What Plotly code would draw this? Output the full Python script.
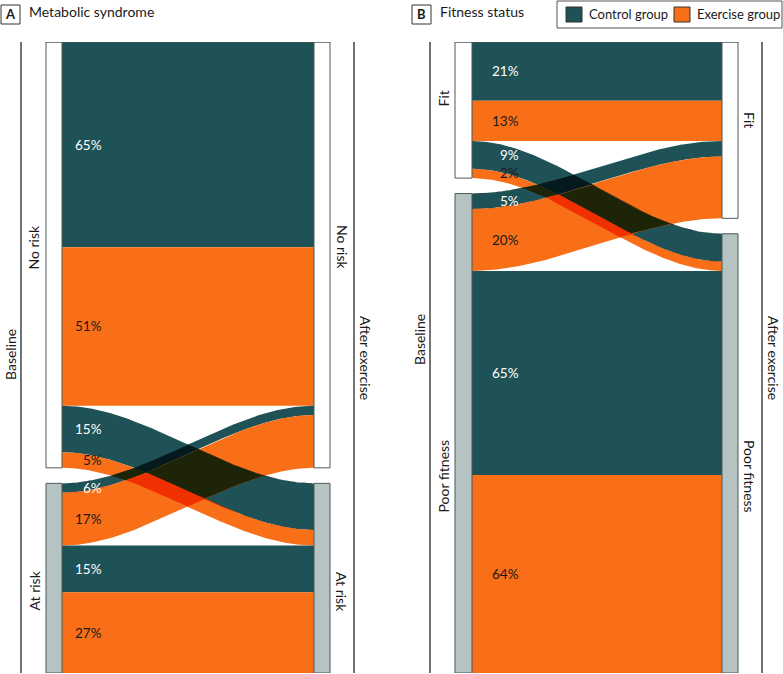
import numpy as np
import plotly.graph_objects as go

# ---------------- data ----------------
groups = ["Control group", "Exercise group"]
# flow order: [stay in first state, first->second, second->first, stay in second]
a_title = "Metabolic syndrome"
a_nodes = ["No risk", "At risk"]
a_pct_control = [65, 15, 6, 15]
a_pct_exercise = [51, 5, 17, 27]
# relative band thickness
a_size_control = [66, 15, 3, 15]
a_size_exercise = [51, 5, 17, 26]

b_title = "Fitness status"
b_nodes = ["Fit", "Poor fitness"]
b_pct_control = [21, 9, 5, 65]
b_pct_exercise = [13, 2, 20, 64]
b_size_control = [19, 9, 5, 66]
b_size_exercise = [13, 3, 20, 64]

side_labels = ["Baseline", "After exercise"]

# ---------------- style / layout ----------------
W, H = 783, 674
TEAL = "#1f5257"
ORANGE = "#f86f17"
NODE_GRAY = "#b5c4c3"
EDGE = "#4d5959"
FONT = "Lato, sans-serif"
group_colors = [TEAL, ORANGE]
label_colors = ["white", "#1a1a1a"]
GAP = 5
TOP_PX, BOT_PX = 42, 673


def py(px):
    return 1 - px / H


def hex2rgb(h):
    h = h.lstrip("#")
    return np.array([int(h[i:i + 2], 16) for i in (0, 2, 4)], dtype=float)


def multiply(c1, c2):
    c = hex2rgb(c1) * hex2rgb(c2) / 255.0
    return "rgb(%d,%d,%d)" % tuple(np.round(c).astype(int))


pairs = [(0, 0), (0, 1), (1, 0), (1, 1)]


def build_flows(size_c, size_e, pct_c, pct_e):
    flows = []
    for k, (s, t) in enumerate(pairs):
        for g, (sz, pc) in enumerate([(size_c, pct_c), (size_e, pct_e)]):
            flows.append(dict(src=s, tgt=t, g=g, size=sz[k], pct=pc[k]))
    nodes_l, nodes_r = {}, {}
    y = 0.0
    for s in (0, 1):
        start = y
        for f in sorted([f for f in flows if f["src"] == s], key=lambda f: (f["tgt"], f["g"])):
            f["l0"] = y
            y += f["size"]
            f["l1"] = y
        nodes_l[s] = (start, y)
        y += GAP
    total = y - GAP
    y = 0.0
    for t in (0, 1):
        start = y
        for f in sorted([f for f in flows if f["tgt"] == t], key=lambda f: (f["src"], f["g"])):
            f["r0"] = y
            y += f["size"]
            f["r1"] = y
        nodes_r[t] = (start, y)
        y += GAP
    return flows, nodes_l, nodes_r, total


fig = go.Figure()
shapes = []
annotations = []


def panel(flows, nodes_l, nodes_r, total, yname, xs_cfg, node_names, label_x, text_pos):
    bl, xl, xr, br, bracket_l, bracket_r = xs_cfg
    yref = "y" if yname == "y" else "y2"
    xs = np.linspace(xl, xr, 300)
    u = (xs - xl) / (xr - xl)
    s = 3 * u ** 2 - 2 * u ** 3
    edges = []
    for f in flows:
        top = f["l0"] + (f["r0"] - f["l0"]) * s
        bot = f["l1"] + (f["r1"] - f["l1"]) * s
        edges.append((top, bot))
        fig.add_trace(go.Scatter(
            x=np.concatenate([xs, xs[::-1]]), y=np.concatenate([top, bot[::-1]]),
            fill="toself", fillcolor=group_colors[f["g"]], mode="lines",
            line=dict(width=0), hoverinfo="skip", showlegend=False, yaxis=yname))
    # overlaps drawn as multiplied colour
    for i in range(len(flows)):
        for j in range(i + 1, len(flows)):
            lo = np.maximum(edges[i][0], edges[j][0])
            hi = np.minimum(edges[i][1], edges[j][1])
            if np.any(hi - lo > 1e-9):
                hi2 = np.maximum(hi, lo)
                fig.add_trace(go.Scatter(
                    x=np.concatenate([xs, xs[::-1]]), y=np.concatenate([lo, hi2[::-1]]),
                    fill="toself",
                    fillcolor=multiply(group_colors[flows[i]["g"]], group_colors[flows[j]["g"]]),
                    mode="lines", line=dict(width=0), hoverinfo="skip",
                    showlegend=False, yaxis=yname))
    # node bars
    for n, (a, b) in nodes_l.items():
        shapes.append(dict(type="rect", xref="x", yref=yref, x0=bl, x1=xl, y0=a, y1=b,
                           fillcolor="white" if n == 0 else NODE_GRAY,
                           line=dict(color=EDGE, width=1), layer="above"))
    for n, (a, b) in nodes_r.items():
        shapes.append(dict(type="rect", xref="x", yref=yref, x0=xr, x1=br, y0=a, y1=b,
                           fillcolor="white" if n == 0 else NODE_GRAY,
                           line=dict(color=EDGE, width=1), layer="above"))
    shapes.append(dict(type="line", xref="x", yref=yref, x0=bl, x1=br, y0=0, y1=0,
                       line=dict(color=EDGE, width=1), layer="above"))
    # brackets
    for bx in (bracket_l, bracket_r):
        shapes.append(dict(type="line", xref="x", yref=yref, x0=bx, x1=bx, y0=0, y1=total,
                           line=dict(color="#444", width=1.5)))
    # percentage labels
    for f in flows:
        annotations.append(dict(x=label_x, y=(f["l0"] + f["l1"]) / 2, xref="x", yref=yref,
                                text="%d%%" % f["pct"], showarrow=False, xanchor="right",
                                yanchor="middle",
                                font=dict(family=FONT, size=13.5, color=label_colors[f["g"]])))
    # node / side labels
    (nl0, nl1, nr0, nr1, base_y, after_y) = text_pos
    lx = (bracket_l + bl) / 2
    rx = (br + bracket_r) / 2
    for txt, x, ypx, ang in [(node_names[0], lx, nl0, -90), (node_names[1], lx, nl1, -90),
                             (node_names[0], rx, nr0, 90), (node_names[1], rx, nr1, 90),
                             (side_labels[0], bracket_l - 11, base_y, -90),
                             (side_labels[1], bracket_r + 12, after_y, 90)]:
        annotations.append(dict(x=x, y=py(ypx), xref="x", yref="paper", text=txt,
                                showarrow=False, textangle=ang, xanchor="center",
                                yanchor="middle",
                                font=dict(family=FONT, size=14, color="#1a1a1a")))


fa = build_flows(a_size_control, a_size_exercise, a_pct_control, a_pct_exercise)
fb = build_flows(b_size_control, b_size_exercise, b_pct_control, b_pct_exercise)

panel(*fa, "y", (46, 62, 314, 330, 21, 354), a_nodes, 104,
      (247, 591, 247, 592, 355, 358))
panel(*fb, "y2", (455, 472, 722, 738, 430, 762), b_nodes, 521,
      (99, 476, 120, 476, 340, 358))

# panel headers
for letter, x0, title in [("A", 1, a_title), ("B", 412, b_title)]:
    shapes.append(dict(type="rect", xref="x", yref="paper", x0=x0, x1=x0 + 19,
                       y0=py(24), y1=py(5), line=dict(color="#333", width=1), fillcolor="white"))
    annotations.append(dict(x=x0 + 9.5, y=py(14.5), xref="x", yref="paper", text="<b>%s</b>" % letter,
                            showarrow=False, xanchor="center", yanchor="middle",
                            font=dict(family=FONT, size=13, color="#1a1a1a")))
    annotations.append(dict(x=x0 + 26, y=py(12), xref="x", yref="paper", text=title,
                            showarrow=False, xanchor="left", yanchor="middle",
                            font=dict(family=FONT, size=14, color="#1a1a1a")))

# legend
shapes.append(dict(type="rect", xref="x", yref="paper", x0=557, x1=782, y0=py(28), y1=py(1),
                   line=dict(color="#555", width=1), fillcolor="white"))
for g, (sx, tx) in enumerate([(566, 587), (674, 695)]):
    shapes.append(dict(type="rect", xref="x", yref="paper", x0=sx, x1=sx + 16, y0=py(22), y1=py(7),
                       line=dict(color="#333", width=1), fillcolor=group_colors[g]))
    annotations.append(dict(x=tx, y=py(14.5), xref="x", yref="paper", text=groups[g],
                            showarrow=False, xanchor="left", yanchor="middle",
                            font=dict(family=FONT, size=13, color="#1a1a1a")))

ydom = [1 - BOT_PX / H, 1 - TOP_PX / H]
fig.update_layout(
    width=W, height=H, margin=dict(l=0, r=0, t=0, b=0),
    paper_bgcolor="white", plot_bgcolor="white", showlegend=False,
    xaxis=dict(range=[0, W], domain=[0, 1], visible=False, fixedrange=True),
    yaxis=dict(range=[fa[3], 0], domain=ydom, visible=False, fixedrange=True),
    yaxis2=dict(range=[fb[3], 0], domain=ydom, visible=False, fixedrange=True,
                overlaying="y"),
    shapes=shapes, annotations=annotations,
)
fig.write_html("out.html", config={"displayModeBar": False},
               post_script="document.body.style.margin='0';document.body.style.overflow='hidden';")
